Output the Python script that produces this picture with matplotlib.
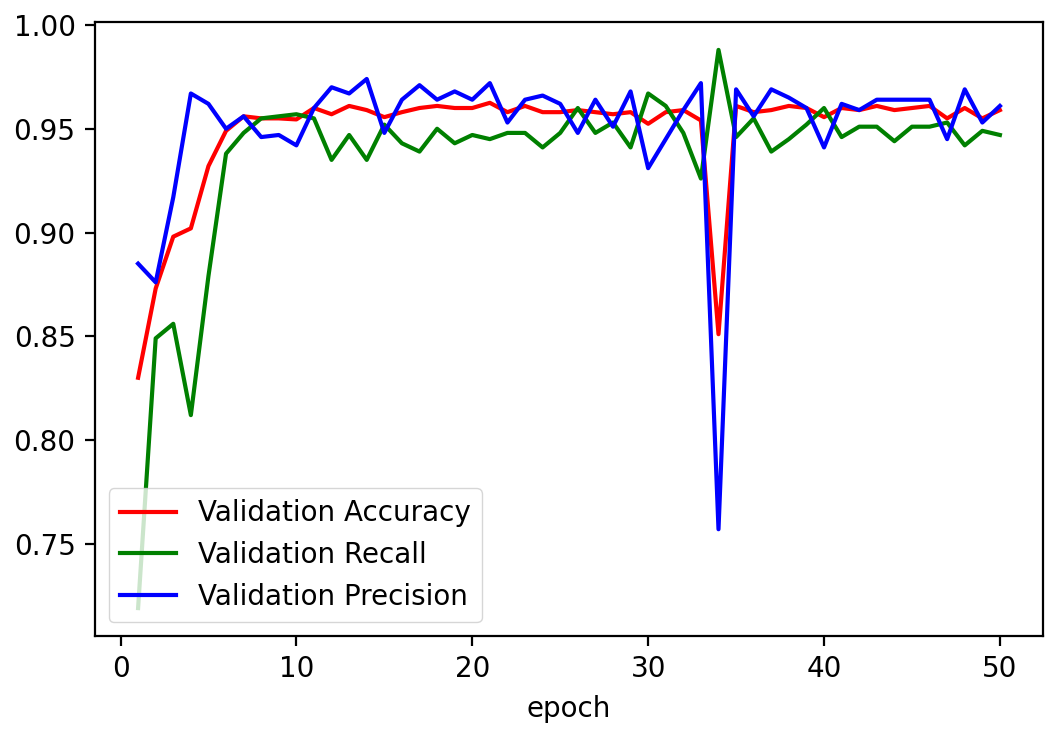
import matplotlib
matplotlib.use("Agg")
import matplotlib.pyplot as plt

epochs = list(range(1, 51))

val_accuracy = [
    0.830, 0.873, 0.898, 0.902, 0.932, 0.949, 0.956, 0.955, 0.955, 0.9545,
    0.960, 0.957, 0.961, 0.959, 0.9556, 0.958, 0.960, 0.961, 0.960, 0.960,
    0.9625, 0.958, 0.961, 0.958, 0.958, 0.959, 0.958, 0.957, 0.958, 0.9524,
    0.958, 0.959, 0.954, 0.851, 0.961, 0.958, 0.959, 0.961, 0.960, 0.9556,
    0.960, 0.959, 0.961, 0.959, 0.960, 0.961, 0.955, 0.960, 0.955, 0.959,
]

val_recall = [
    0.719, 0.849, 0.856, 0.812, 0.879, 0.938, 0.948, 0.955, 0.956, 0.957,
    0.955, 0.935, 0.947, 0.935, 0.952, 0.943, 0.939, 0.950, 0.943, 0.947,
    0.945, 0.948, 0.948, 0.941, 0.948, 0.960, 0.948, 0.953, 0.941, 0.967,
    0.961, 0.948, 0.926, 0.988, 0.946, 0.955, 0.939, 0.945, 0.952, 0.960,
    0.946, 0.951, 0.951, 0.944, 0.951, 0.951, 0.953, 0.942, 0.949, 0.947,
]

val_precision = [
    0.885, 0.876, 0.917, 0.967, 0.962, 0.950, 0.956, 0.946, 0.947, 0.942,
    0.960, 0.970, 0.967, 0.974, 0.948, 0.964, 0.971, 0.964, 0.968, 0.964,
    0.972, 0.953, 0.964, 0.966, 0.962, 0.948, 0.964, 0.951, 0.968, 0.931,
    0.945, 0.959, 0.972, 0.757, 0.969, 0.956, 0.969, 0.965, 0.960, 0.941,
    0.962, 0.959, 0.964, 0.964, 0.964, 0.964, 0.945, 0.969, 0.953, 0.961,
]

x_ticks = [0, 10, 20, 30, 40, 50]
x_label = "epoch"
series_labels = ["Validation Accuracy", "Validation Recall", "Validation Precision"]

# everything drawn at twice the usual size
scale = 2.0
plt.rcParams.update({
    "font.family": "DejaVu Sans",
    "font.size": 10 * scale,
    "lines.linewidth": 1.5 * scale,
    "axes.linewidth": 0.8 * scale,
    "xtick.major.size": 3.5 * scale,
    "ytick.major.size": 3.5 * scale,
    "xtick.major.width": 0.8 * scale,
    "ytick.major.width": 0.8 * scale,
    "xtick.major.pad": 3.5 * scale,
    "ytick.major.pad": 3.5 * scale,
    "axes.labelpad": 4.0 * scale,
    "legend.fontsize": 10 * scale,
})

fig = plt.figure(figsize=(10.49, 7.31), dpi=100)
ax = fig.add_axes([95 / 1049, 1 - 636 / 731, (1043 - 95) / 1049, (636 - 22) / 731])

ax.plot(epochs, val_accuracy, color="r", label=series_labels[0])
ax.plot(epochs, val_recall, color="g", label=series_labels[1])
ax.plot(epochs, val_precision, color="b", label=series_labels[2])

ax.set_xticks(x_ticks)
ax.set_xlabel(x_label)
ax.legend(loc="lower left")

fig.savefig("out.png", dpi=100)
